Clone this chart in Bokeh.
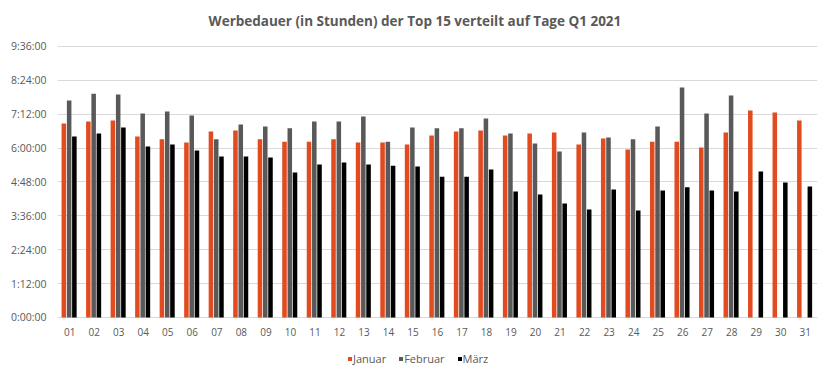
from bokeh.plotting import figure
from bokeh.models import ColumnDataSource, FactorRange, FixedTicker, Legend, LegendItem, Label, Range1d
from bokeh.transform import dodge
from bokeh.embed import file_html
from bokeh.resources import INLINE

days = [f"{d:02d}" for d in range(1, 32)]
# values in hours
januar = [6.87, 6.94, 6.98, 6.41, 6.31, 6.20, 6.59, 6.62, 6.31, 6.23,
          6.23, 6.31, 6.20, 6.20, 6.13, 6.45, 6.59, 6.62, 6.45, 6.52,
          6.55, 6.13, 6.34, 5.95, 6.23, 6.23, 6.02, 6.55, 7.33, 7.26, 6.98]
februar = [7.69, 7.93, 7.90, 7.23, 7.30, 7.16, 6.31, 6.84, 6.77, 6.70,
           6.94, 6.94, 7.12, 6.23, 6.73, 6.70, 6.70, 7.05, 6.52, 6.16,
           5.88, 6.55, 6.38, 6.31, 6.77, 8.15, 7.23, 7.86]
maerz = [6.41, 6.52, 6.73, 6.06, 6.13, 5.92, 5.70, 5.70, 5.67, 5.14,
         5.42, 5.49, 5.42, 5.38, 5.35, 4.99, 4.99, 5.24, 4.46, 4.36,
         4.04, 3.83, 4.53, 3.79, 4.50, 4.61, 4.50, 4.46, 5.17, 4.78, 4.64]
tick_values = [0, 1.2, 2.4, 3.6, 4.8, 6.0, 7.2, 8.4, 9.6]
tick_labels = ["0:00:00", "1:12:00", "2:24:00", "3:36:00", "4:48:00",
               "6:00:00", "7:12:00", "8:24:00", "9:36:00"]
series_names = ["Januar", "Februar", "März"]
colors = ["#E24A1F", "#595959", "#000000"]
title_text = "Werbedauer (in Stunden) der Top 15 verteilt auf Tage Q1 2021"

FONT = "Open Sans"
TXT = "#595959"

# frame spans the whole height: title above 9:36, day labels and legend below zero
p = figure(x_range=FactorRange(*days), y_range=Range1d(-2.1255, 11.2295),
           width=830, height=377, output_backend="svg", toolbar_location=None,
           min_border_left=57, min_border_right=13, min_border_top=0,
           min_border_bottom=0)
p.outline_line_color = None
p.background_fill_color = "white"

p.add_layout(Label(x=14.58, y=10.503, text=title_text, text_align="center",
                   text_baseline="middle", text_font=FONT, text_font_size="13.5px",
                   text_font_style="bold", text_color=TXT))

sources = [
    ColumnDataSource(dict(day=days, v=januar)),
    ColumnDataSource(dict(day=days[:len(februar)], v=februar)),
    ColumnDataSource(dict(day=days, v=maerz)),
]
offsets = [-0.241, -0.025, 0.188]
renderers = []
for src, off, col in zip(sources, offsets, colors):
    r = p.vbar(x=dodge("day", off, range=p.x_range), top="v", width=0.185,
               source=src, fill_color=col, line_color=None)
    renderers.append(r)

# day labels under the zero line
lab_src = ColumnDataSource(dict(day=days, y=[0] * len(days)))
p.text(x="day", y="y", text="day", source=lab_src, y_offset=15,
       text_align="center", text_baseline="middle",
       text_font={"value": FONT}, text_font_size="10px", text_color=TXT)

p.xaxis.visible = False
p.yaxis.ticker = FixedTicker(ticks=tick_values)
p.yaxis.major_label_overrides = {v: l for v, l in zip(tick_values, tick_labels)}
p.yaxis.axis_line_color = None
p.yaxis.major_tick_line_color = None
p.yaxis.minor_tick_line_color = None
p.yaxis.major_tick_out = 0
p.yaxis.major_tick_in = 0
p.yaxis.minor_tick_out = 0
p.yaxis.major_label_text_font = FONT
p.yaxis.major_label_text_font_size = "10.5px"
p.yaxis.major_label_text_color = TXT
p.yaxis.major_label_standoff = 11

p.xgrid.grid_line_color = None
p.ygrid.grid_line_color = "#D9D9D9"
p.ygrid.ticker = FixedTicker(ticks=tick_values)

legend = Legend(items=[LegendItem(label=n, renderers=[r]) for n, r in zip(series_names, renderers)],
                orientation="horizontal", location=(290, 11),
                label_text_font=FONT, label_text_font_size="11px", label_text_color=TXT,
                glyph_width=5, glyph_height=5, label_standoff=1, spacing=12,
                label_height=12, label_width=10,
                border_line_color=None, background_fill_alpha=0, padding=0, margin=0)
p.add_layout(legend, "center")

open("out.html", "w").write(file_html(p, INLINE))
